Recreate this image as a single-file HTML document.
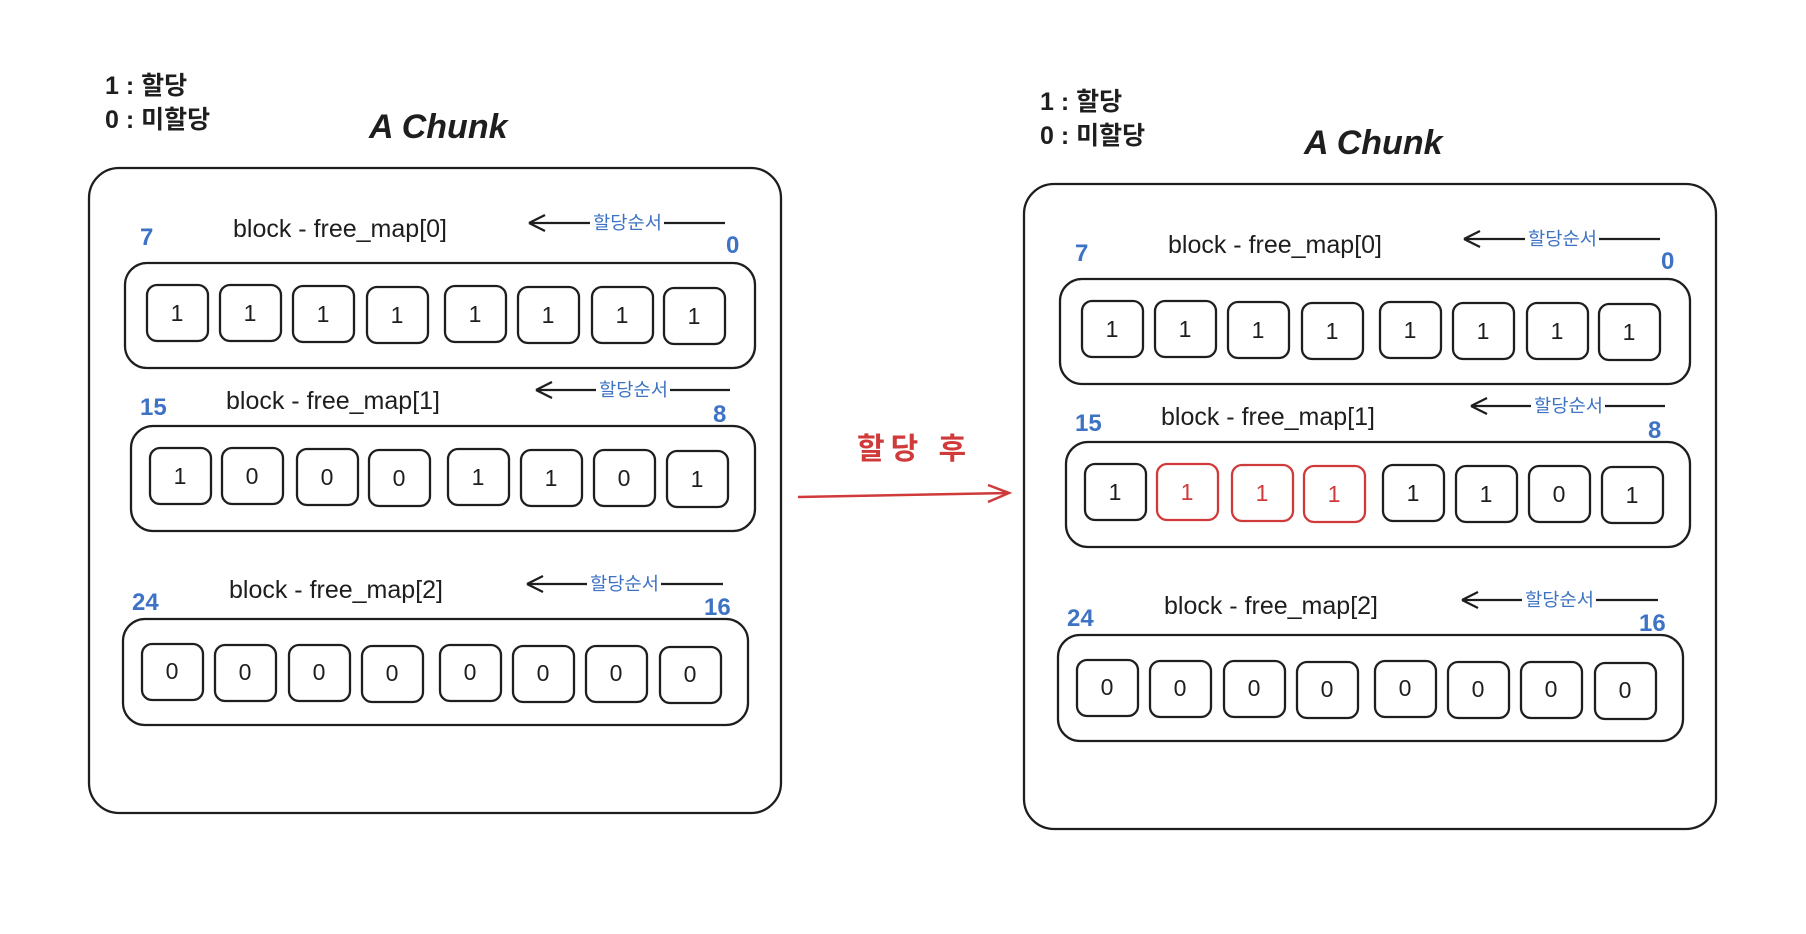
<!DOCTYPE html>
<html><head><meta charset="utf-8"><style>
html,body{margin:0;padding:0;background:#fff;}
svg{display:block;}
text{font-family:"Liberation Sans","Noto Sans CJK KR",sans-serif;fill:#1e1e1e;}
.b{fill:#3d72c4;font-weight:bold;}
.r{fill:#d03a3a;}
.c{fill:none;stroke:#1e1e1e;stroke-width:2.3;}
.cr{fill:none;stroke:#d03a3a;stroke-width:2.3;}
.d{font-size:23px;text-anchor:middle;}
.t{font-size:25px;}
.s{font-size:18px;font-weight:normal;}
.lg{font-size:25px;font-weight:bold;}
</style></head><body>
<svg width="1806" height="934" viewBox="0 0 1806 934" xmlns="http://www.w3.org/2000/svg">
<g id="L">
<text class="lg" x="105" y="94">1 : 할당</text>
<text class="lg" x="105" y="128">0 : 미할당</text>
<text x="369" y="138" font-size="34" font-style="italic" font-weight="bold">A Chunk</text>
<rect class="c" x="89" y="168" width="692" height="645" rx="30"/>
<text class="t" x="233" y="237">block - free_map[0]</text>
<text class="b" x="140" y="245" font-size="24">7</text>
<text class="b" x="726" y="253" font-size="24">0</text>
<path class="c" d="M529 223 L590 223 M664 223 L725 223 M529 223 L545 215 M529 223 L545 231"/>
<text class="b s" x="593" y="229" textLength="69" lengthAdjust="spacingAndGlyphs">할당순서</text>
<rect class="c" x="125" y="263" width="630" height="105" rx="22"/>
<rect class="c" x="147" y="285" width="61" height="56" rx="10"/><text class="d" x="177" y="321">1</text>
<rect class="c" x="220" y="285" width="61" height="56" rx="10"/><text class="d" x="250" y="321">1</text>
<rect class="c" x="293" y="286" width="61" height="56" rx="10"/><text class="d" x="323" y="322">1</text>
<rect class="c" x="367" y="287" width="61" height="56" rx="10"/><text class="d" x="397" y="323">1</text>
<rect class="c" x="445" y="286" width="61" height="56" rx="10"/><text class="d" x="475" y="322">1</text>
<rect class="c" x="518" y="287" width="61" height="56" rx="10"/><text class="d" x="548" y="323">1</text>
<rect class="c" x="592" y="287" width="61" height="56" rx="10"/><text class="d" x="622" y="323">1</text>
<rect class="c" x="664" y="288" width="61" height="56" rx="10"/><text class="d" x="694" y="324">1</text>
<text class="t" x="226" y="409">block - free_map[1]</text>
<text class="b" x="140" y="415" font-size="24">15</text>
<text class="b" x="713" y="422" font-size="24">8</text>
<path class="c" d="M536 390 L596 390 M670 390 L730 390 M536 390 L552 382 M536 390 L552 398"/>
<text class="b s" x="599" y="396" textLength="69" lengthAdjust="spacingAndGlyphs">할당순서</text>
<rect class="c" x="131" y="426" width="624" height="105" rx="22"/>
<rect class="c" x="150" y="448" width="61" height="56" rx="10"/><text class="d" x="180" y="484">1</text>
<rect class="c" x="222" y="448" width="61" height="56" rx="10"/><text class="d" x="252" y="484">0</text>
<rect class="c" x="297" y="449" width="61" height="56" rx="10"/><text class="d" x="327" y="485">0</text>
<rect class="c" x="369" y="450" width="61" height="56" rx="10"/><text class="d" x="399" y="486">0</text>
<rect class="c" x="448" y="449" width="61" height="56" rx="10"/><text class="d" x="478" y="485">1</text>
<rect class="c" x="521" y="450" width="61" height="56" rx="10"/><text class="d" x="551" y="486">1</text>
<rect class="c" x="594" y="450" width="61" height="56" rx="10"/><text class="d" x="624" y="486">0</text>
<rect class="c" x="667" y="451" width="61" height="56" rx="10"/><text class="d" x="697" y="487">1</text>
<text class="t" x="229" y="598">block - free_map[2]</text>
<text class="b" x="132" y="610" font-size="24">24</text>
<text class="b" x="704" y="615" font-size="24">16</text>
<path class="c" d="M527 584 L587 584 M661 584 L723 584 M527 584 L543 576 M527 584 L543 592"/>
<text class="b s" x="590" y="590" textLength="69" lengthAdjust="spacingAndGlyphs">할당순서</text>
<rect class="c" x="123" y="619" width="625" height="106" rx="22"/>
<rect class="c" x="142" y="644" width="61" height="56" rx="10"/><text class="d" x="172" y="679">0</text>
<rect class="c" x="215" y="645" width="61" height="56" rx="10"/><text class="d" x="245" y="680">0</text>
<rect class="c" x="289" y="645" width="61" height="56" rx="10"/><text class="d" x="319" y="680">0</text>
<rect class="c" x="362" y="646" width="61" height="56" rx="10"/><text class="d" x="392" y="681">0</text>
<rect class="c" x="440" y="645" width="61" height="56" rx="10"/><text class="d" x="470" y="680">0</text>
<rect class="c" x="513" y="646" width="61" height="56" rx="10"/><text class="d" x="543" y="681">0</text>
<rect class="c" x="586" y="646" width="61" height="56" rx="10"/><text class="d" x="616" y="681">0</text>
<rect class="c" x="660" y="647" width="61" height="56" rx="10"/><text class="d" x="690" y="682">0</text>
</g>

<text class="r" x="857" y="459" font-size="30" letter-spacing="6" font-weight="bold">할당 후</text>
<path d="M798 497 L1009 493 M988 485 L1009 493 L988 502" fill="none" stroke="#d03a3a" stroke-width="2.5"/>

<g transform="translate(935,16)">
<text class="lg" x="105" y="94">1 : 할당</text>
<text class="lg" x="105" y="128">0 : 미할당</text>
<text x="369" y="138" font-size="34" font-style="italic" font-weight="bold">A Chunk</text>
<rect class="c" x="89" y="168" width="692" height="645" rx="30"/>
<text class="t" x="233" y="237">block - free_map[0]</text>
<text class="b" x="140" y="245" font-size="24">7</text>
<text class="b" x="726" y="253" font-size="24">0</text>
<path class="c" d="M529 223 L590 223 M664 223 L725 223 M529 223 L545 215 M529 223 L545 231"/>
<text class="b s" x="593" y="229" textLength="69" lengthAdjust="spacingAndGlyphs">할당순서</text>
<rect class="c" x="125" y="263" width="630" height="105" rx="22"/>
<rect class="c" x="147" y="285" width="61" height="56" rx="10"/><text class="d" x="177" y="321">1</text>
<rect class="c" x="220" y="285" width="61" height="56" rx="10"/><text class="d" x="250" y="321">1</text>
<rect class="c" x="293" y="286" width="61" height="56" rx="10"/><text class="d" x="323" y="322">1</text>
<rect class="c" x="367" y="287" width="61" height="56" rx="10"/><text class="d" x="397" y="323">1</text>
<rect class="c" x="445" y="286" width="61" height="56" rx="10"/><text class="d" x="475" y="322">1</text>
<rect class="c" x="518" y="287" width="61" height="56" rx="10"/><text class="d" x="548" y="323">1</text>
<rect class="c" x="592" y="287" width="61" height="56" rx="10"/><text class="d" x="622" y="323">1</text>
<rect class="c" x="664" y="288" width="61" height="56" rx="10"/><text class="d" x="694" y="324">1</text>
<text class="t" x="226" y="409">block - free_map[1]</text>
<text class="b" x="140" y="415" font-size="24">15</text>
<text class="b" x="713" y="422" font-size="24">8</text>
<path class="c" d="M536 390 L596 390 M670 390 L730 390 M536 390 L552 382 M536 390 L552 398"/>
<text class="b s" x="599" y="396" textLength="69" lengthAdjust="spacingAndGlyphs">할당순서</text>
<rect class="c" x="131" y="426" width="624" height="105" rx="22"/>
<rect class="c" x="150" y="448" width="61" height="56" rx="10"/><text class="d" x="180" y="484">1</text>
<rect class="cr" x="222" y="448" width="61" height="56" rx="10"/><text class="d r" x="252" y="484">1</text>
<rect class="cr" x="297" y="449" width="61" height="56" rx="10"/><text class="d r" x="327" y="485">1</text>
<rect class="cr" x="369" y="450" width="61" height="56" rx="10"/><text class="d r" x="399" y="486">1</text>
<rect class="c" x="448" y="449" width="61" height="56" rx="10"/><text class="d" x="478" y="485">1</text>
<rect class="c" x="521" y="450" width="61" height="56" rx="10"/><text class="d" x="551" y="486">1</text>
<rect class="c" x="594" y="450" width="61" height="56" rx="10"/><text class="d" x="624" y="486">0</text>
<rect class="c" x="667" y="451" width="61" height="56" rx="10"/><text class="d" x="697" y="487">1</text>
<text class="t" x="229" y="598">block - free_map[2]</text>
<text class="b" x="132" y="610" font-size="24">24</text>
<text class="b" x="704" y="615" font-size="24">16</text>
<path class="c" d="M527 584 L587 584 M661 584 L723 584 M527 584 L543 576 M527 584 L543 592"/>
<text class="b s" x="590" y="590" textLength="69" lengthAdjust="spacingAndGlyphs">할당순서</text>
<rect class="c" x="123" y="619" width="625" height="106" rx="22"/>
<rect class="c" x="142" y="644" width="61" height="56" rx="10"/><text class="d" x="172" y="679">0</text>
<rect class="c" x="215" y="645" width="61" height="56" rx="10"/><text class="d" x="245" y="680">0</text>
<rect class="c" x="289" y="645" width="61" height="56" rx="10"/><text class="d" x="319" y="680">0</text>
<rect class="c" x="362" y="646" width="61" height="56" rx="10"/><text class="d" x="392" y="681">0</text>
<rect class="c" x="440" y="645" width="61" height="56" rx="10"/><text class="d" x="470" y="680">0</text>
<rect class="c" x="513" y="646" width="61" height="56" rx="10"/><text class="d" x="543" y="681">0</text>
<rect class="c" x="586" y="646" width="61" height="56" rx="10"/><text class="d" x="616" y="681">0</text>
<rect class="c" x="660" y="647" width="61" height="56" rx="10"/><text class="d" x="690" y="682">0</text>
</g>
</svg>
</body></html>
